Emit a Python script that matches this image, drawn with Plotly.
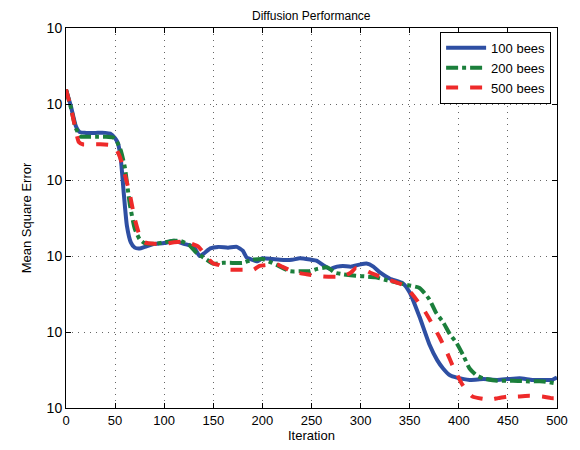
import numpy as np
import plotly.graph_objects as go

# iteration positions and log10(MSE) values
x_100 = [0,5,10,14,20,30,40,45,50,53,56,59,62,66,70,75,80,90,100,110,120,130,136,140,147,155,165,174,180,184,190,195,200,210,218,230,238,250,255,262,269,276,282,290,300,306,313,320,330,343,350,360,370,378,384,391,398,411,425,439,450,462,475,486,495,500]
log_mse_100 = [-0.81,-1.03,-1.29,-1.37,-1.38,-1.38,-1.38,-1.39,-1.45,-1.52,-1.75,-2.20,-2.60,-2.82,-2.89,-2.90,-2.88,-2.84,-2.83,-2.80,-2.84,-2.88,-3.00,-2.97,-2.90,-2.88,-2.89,-2.88,-2.93,-3.02,-3.05,-3.07,-3.03,-3.04,-3.05,-3.05,-3.03,-3.05,-3.06,-3.12,-3.17,-3.14,-3.13,-3.14,-3.11,-3.10,-3.14,-3.22,-3.30,-3.36,-3.48,-3.80,-4.16,-4.37,-4.48,-4.57,-4.60,-4.63,-4.62,-4.63,-4.62,-4.61,-4.63,-4.63,-4.63,-4.60]

x_200 = [0,5,10,15,20,30,40,48,52,56,60,65,70,75,80,90,100,110,116,125,133,140,150,160,167,180,189,200,208,215,228,240,248,256,266,274,282,295,306,315,327,347,360,370,377,384,391,398,405,411,418,425,439,455,472,486,500]
log_mse_200 = [-0.81,-1.05,-1.32,-1.43,-1.43,-1.43,-1.43,-1.44,-1.50,-1.62,-1.84,-2.32,-2.64,-2.78,-2.83,-2.84,-2.82,-2.80,-2.80,-2.85,-2.96,-3.02,-3.10,-3.09,-3.09,-3.09,-3.05,-3.04,-3.08,-3.12,-3.20,-3.20,-3.20,-3.17,-3.15,-3.22,-3.24,-3.26,-3.27,-3.28,-3.32,-3.38,-3.42,-3.57,-3.75,-3.87,-4.03,-4.15,-4.32,-4.48,-4.57,-4.61,-4.64,-4.64,-4.65,-4.65,-4.68]

x_500 = [0,5,10,13,17,25,35,45,50,55,60,65,70,75,80,90,100,110,120,128,135,143,150,156,165,174,185,191,197,203,215,220,232,245,262,282,290,295,303,310,323,343,353,366,380,388,394,404,414,425,432,440,449,460,472,485,494,500]
log_mse_500 = [-0.81,-1.05,-1.35,-1.50,-1.53,-1.53,-1.53,-1.54,-1.57,-1.70,-1.93,-2.19,-2.51,-2.73,-2.82,-2.84,-2.84,-2.82,-2.81,-2.84,-2.88,-3.01,-3.10,-3.12,-3.18,-3.18,-3.18,-3.18,-3.13,-3.12,-3.11,-3.14,-3.21,-3.24,-3.27,-3.27,-3.22,-3.16,-3.18,-3.22,-3.29,-3.38,-3.51,-3.74,-4.06,-4.27,-4.45,-4.70,-4.85,-4.88,-4.89,-4.87,-4.85,-4.85,-4.84,-4.85,-4.87,-4.87]

series_names = ["100 bees", "200 bees", "500 bees"]
x_ticks = [0, 50, 100, 150, 200, 250, 300, 350, 400, 450, 500]
y_tick_exponents = [-5, -4, -3, -2, -1, 0]
y_tick_text = ["10"] * 6

fig = go.Figure()
fig.add_trace(go.Scatter(x=x_100, y=10 ** np.array(log_mse_100), mode="lines", name=series_names[0],
                         line=dict(color="#2E4FA3", width=4, shape="spline", smoothing=0.5)))
fig.add_trace(go.Scatter(x=x_200, y=10 ** np.array(log_mse_200), mode="lines", name=series_names[1],
                         line=dict(color="#1B7F3B", width=4, dash="dashdot", shape="spline", smoothing=0.5)))
fig.add_trace(go.Scatter(x=x_500, y=10 ** np.array(log_mse_500), mode="lines", name=series_names[2],
                         line=dict(color="#EE2A2A", width=4, dash="dash", shape="spline", smoothing=0.5)))

font_family = "Liberation Sans, Arial, sans-serif"
fig.update_layout(
    width=580, height=450,
    margin=dict(l=58, r=31, t=12, b=50),
    paper_bgcolor="white", plot_bgcolor="white",
    font=dict(family=font_family, color="black", size=13),
    showlegend=True,
    legend=dict(x=0.988, y=0.99, xanchor="right", yanchor="top", bordercolor="black", borderwidth=1,
                bgcolor="white", font=dict(size=13), tracegroupgap=0, itemwidth=40),
    annotations=[dict(text="Diffusion Performance", xref="paper", yref="paper", x=0.5, y=1.0,
                      xanchor="center", yanchor="bottom", yshift=3, showarrow=False,
                      font=dict(size=12, family=font_family))],
)
fig.update_xaxes(range=[0, 500], tickvals=x_ticks, ticks="inside", ticklen=5, tickcolor="black",
                 showline=True, linecolor="black", linewidth=1, mirror="ticks",
                 showgrid=True, gridcolor="#666666", griddash="1px,5px", gridwidth=1, zeroline=False,
                 title=dict(text="Iteration", font=dict(size=13), standoff=2), tickfont=dict(size=13))
fig.update_yaxes(type="log", range=[-5, 0], tickvals=[10.0 ** e for e in y_tick_exponents], ticktext=y_tick_text,
                 ticks="inside", ticklen=5, tickcolor="black",
                 showline=True, linecolor="black", linewidth=1, mirror="ticks",
                 showgrid=True, gridcolor="#666666", griddash="1px,5px", gridwidth=1, zeroline=False,
                 title=dict(text="Mean Square Error", font=dict(size=13), standoff=12), tickfont=dict(size=14))

fig.write_html("out.html")
